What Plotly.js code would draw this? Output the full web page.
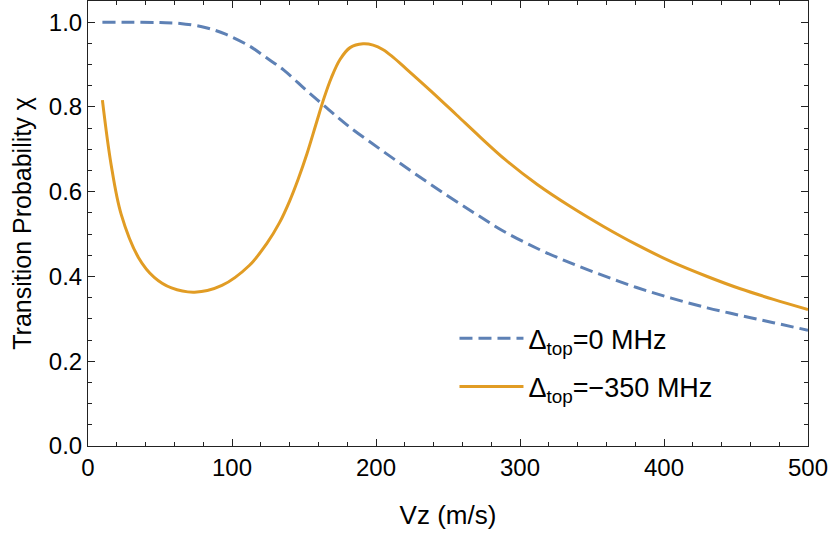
<!DOCTYPE html>
<html>
<head>
<meta charset="utf-8">
<script src="https://cdn.plot.ly/plotly-3.0.1.min.js"></script>
<style>
  body { margin: 0; background: #fff; }
  #chart { width: 830px; height: 533px; }
</style>
</head>
<body>
<div id="chart"></div>
<script>
const vzBlue = [10, 30, 50, 64, 82, 96, 112, 124, 136, 152, 165, 180, 203, 226, 249, 270, 288, 312, 335, 358, 381, 405, 430, 453, 476, 500];
const probBlue = [1.0, 1.0, 0.999, 0.997, 0.987, 0.971, 0.944, 0.916, 0.887, 0.838, 0.800, 0.757, 0.700, 0.645, 0.592, 0.546, 0.508, 0.466, 0.432, 0.402, 0.374, 0.349, 0.326, 0.308, 0.291, 0.273];

const vzOrange = [10, 16, 23, 35, 46, 58, 74, 93, 112, 124, 133, 140, 146, 152, 159, 164, 169, 175, 182, 191, 198, 205, 212, 221, 238, 256, 272, 290, 312, 335, 358, 381, 405, 430, 453, 476, 500];
const probOrange = [0.816, 0.665, 0.547, 0.445, 0.398, 0.373, 0.363, 0.379, 0.426, 0.477, 0.527, 0.578, 0.630, 0.689, 0.767, 0.822, 0.869, 0.912, 0.940, 0.949, 0.946, 0.935, 0.917, 0.890, 0.838, 0.781, 0.730, 0.675, 0.617, 0.565, 0.518, 0.475, 0.435, 0.400, 0.371, 0.346, 0.322];

const seriesNames = ['Δ<sub>top</sub>=0 MHz', 'Δ<sub>top</sub>=\u2212350 MHz'];

const fontFam = 'Liberation Sans, Arial, sans-serif';

const traces = [
    {
        x: vzBlue, y: probBlue,
        type: 'scatter', mode: 'lines',
        name: seriesNames[0], legendgroup: 'a',
        line: {color: '#5E81B5', width: 3, dash: '13px,6px', shape: 'spline', smoothing: 1}
    },
    {
        x: vzOrange, y: probOrange,
        type: 'scatter', mode: 'lines',
        name: seriesNames[1], legendgroup: 'b',
        line: {color: '#E19C24', width: 3, shape: 'spline', smoothing: 1}
    }
];

const axisCommon = {
    showline: true, mirror: 'ticks', linecolor: '#222', linewidth: 1,
    ticks: 'inside', ticklen: 7, tickwidth: 1, tickcolor: '#222',
    showgrid: false, zeroline: false,
    tickfont: {family: fontFam, size: 24, color: '#000'}
};

const layout = {
    width: 830, height: 533,
    margin: {l: 88, r: 22, t: 1, b: 87},
    paper_bgcolor: '#fff', plot_bgcolor: '#fff',
    font: {family: fontFam, color: '#000'},
    showlegend: true,
    legend: {
        x: 0.509, y: 0.296, xanchor: 'left', yanchor: 'top',
        bgcolor: 'rgba(0,0,0,0)', itemwidth: 64, tracegroupgap: 10,
        font: {family: fontFam, size: 27, color: '#000'}
    },
    xaxis: Object.assign({}, axisCommon, {
        range: [0, 500], dtick: 100, tick0: 0,
        minor: {ticks: 'inside', dtick: 20, ticklen: 4, tickcolor: '#222'},
        title: {text: 'Vz (m/s)', font: {family: fontFam, size: 26}, standoff: 26}
    }),
    yaxis: Object.assign({}, axisCommon, {
        range: [0, 1.05], dtick: 0.2, tick0: 0, tickformat: '.1f',
        minor: {ticks: 'inside', dtick: 0.05, ticklen: 4, tickcolor: '#222'},
        title: {text: 'Transition Probability χ', font: {family: fontFam, size: 25}, standoff: 10}
    })
};

Plotly.newPlot('chart', traces, layout, {displayModeBar: false, staticPlot: true});
</script>
</body>
</html>
